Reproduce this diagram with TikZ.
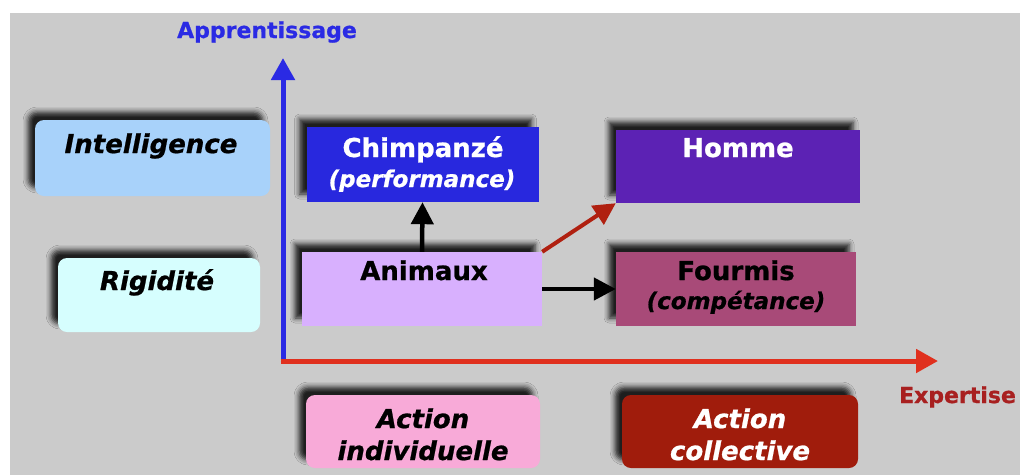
\documentclass[tikz,border=0pt]{standalone}
\usepackage{fontspec}
\setmainfont{DejaVu Sans}[BoldFeatures={FakeBold=0.8}, BoldItalicFeatures={FakeBold=0.8}]
\usetikzlibrary{arrows.meta,shadows.blur}
\definecolor{bggray}{HTML}{CBCBCB}
\definecolor{axblue}{HTML}{2A2AE4}
\definecolor{axred}{HTML}{E0301E}
\definecolor{exred}{HTML}{A82020}
\definecolor{cIntel}{HTML}{A8D2FA}
\definecolor{cRigid}{HTML}{D6FEFE}
\definecolor{cChimp}{HTML}{2828DE}
\definecolor{cHomme}{HTML}{5C22B4}
\definecolor{cAnim}{HTML}{D8B0FE}
\definecolor{cFourm}{HTML}{A84A78}
\definecolor{cActI}{HTML}{F8AAD8}
\definecolor{cActC}{HTML}{A01C0C}
\definecolor{arrred}{HTML}{B02010}
\tikzset{
  box/.style={draw=none, inner sep=0pt,
    blur shadow={shadow xshift=-7pt, shadow yshift=8pt, shadow blur radius=5pt, shadow opacity=85}},
  rbox/.style={box, rounded corners=9pt},
  big/.style={anchor=base, inner sep=0pt, font=\fontsize{26}{30}\selectfont\bfseries},
  bigit/.style={anchor=base, inner sep=0pt, font=\fontsize{26}{30}\selectfont\bfseries\itshape},
  sub/.style={anchor=base, inner sep=0pt, font=\fontsize{23}{27}\selectfont\bfseries\itshape},
  axlab/.style={anchor=base, inner sep=0pt, font=\fontsize{22}{26}\selectfont\bfseries},
  axis/.style={line width=5pt, -{Triangle[length=22pt,width=23pt]}},
  conn/.style={line width=4.5pt, -{Triangle[length=22pt,width=22pt]}}
}
\begin{document}
\begin{tikzpicture}[x=1pt,y=-1pt]
\useasboundingbox (0,0) rectangle (1020,475);
\fill[white] (0,0) rectangle (1020,475);
\fill[bggray] (10,13) rectangle (1020,475);

% boxes
\node[rbox, fill=cIntel, minimum width=235, minimum height=76] (intel) at (152.5,158) {};
\node[rbox, fill=cRigid, minimum width=202, minimum height=74] (rigid) at (159,295) {};
\node[box, fill=cChimp, minimum width=232, minimum height=75] (chimp) at (422.5,164.5) {};
\node[box, fill=cHomme, minimum width=244, minimum height=73] (homme) at (738,166.5) {};
\node[box, fill=cAnim, minimum width=240, minimum height=74] (anim) at (422,289) {};
\node[box, fill=cFourm, minimum width=240, minimum height=74] (fourm) at (736,289) {};
\node[rbox, fill=cActI, minimum width=234, minimum height=73] (acti) at (423,431.5) {};
\node[rbox, fill=cActC, minimum width=236, minimum height=73] (actc) at (740,431.5) {};

% texts
\node[bigit] (tIntel) at (151,153) {Intelligence};
\node[bigit] (tRigid) at (157,290) {Rigidité};
\node[big, text=white] (tChimp) at (423,157) {Chimpanzé};
\node[sub, text=white] (tPerf) at (422,187) {(performance)};
\node[big, text=white] (tHomme) at (738,157) {Homme};
\node[big] (tAnim) at (424,280) {Animaux};
\node[big] (tFourm) at (736,280) {Fourmis};
\node[sub] (tComp) at (736,309) {(compétance)};
\node[bigit] (tAct1) at (423,428) {Action};
\node[bigit] (tAct2) at (423,460) {individuelle};
\node[bigit, text=white] (tAct3) at (740,428) {Action};
\node[bigit, text=white] (tAct4) at (740,460) {collective};

% axes
\coordinate (O) at (283,361);
\coordinate (Ytip) at (283,58);
\coordinate (Xtip) at (938,361);
\coordinate (Ostart) at (280.5,361);
\draw[axis, draw=axblue, fill=axblue, line cap=butt] (283,363.5) -- (Ytip);
\draw[axis, draw=axred, fill=axred] (Ostart) -- (Xtip);
\node[axlab, text=axblue] (app) at (267,38) {Apprentissage};
\node[axlab, text=exred] (exp) at (957.5,403) {Expertise};

% connectors
\draw[conn, black] (anim.north) -- (chimp.south);
\draw[conn, black] (anim.east) -- (fourm.west);
\draw[conn, line width=4pt, draw=arrred, fill=arrred] (anim.north east) -- (homme.south west);
\end{tikzpicture}
\end{document}
